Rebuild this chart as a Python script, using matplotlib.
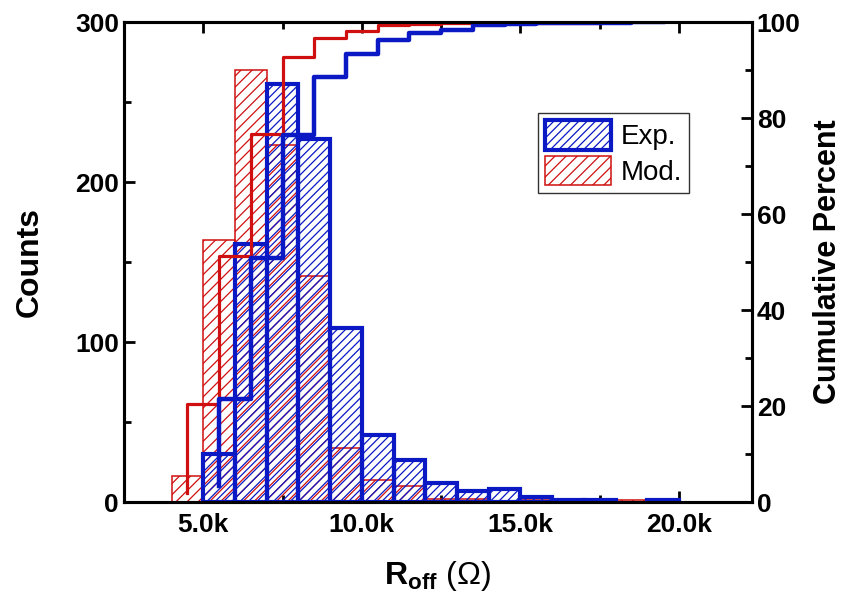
import numpy as np
import matplotlib
matplotlib.use("Agg")
import matplotlib.pyplot as plt
from matplotlib.ticker import MultipleLocator, FuncFormatter

plt.rcParams['font.family'] = ['Liberation Sans', 'DejaVu Sans']
plt.rcParams['mathtext.fontset'] = 'custom'
plt.rcParams['mathtext.rm'] = 'Liberation Sans'
plt.rcParams['mathtext.bf'] = 'Liberation Sans:bold'
plt.rcParams['hatch.linewidth'] = 0.9

# histogram bins (k-ohm) and counts per bin
bin_edges_k = [4, 5, 6, 7, 8, 9, 10, 11, 12, 13, 14, 15, 16, 17, 18, 19, 20]
exp_counts = [0, 30, 161, 261, 227, 109, 42, 26, 12, 7, 8, 3, 1, 1, 0, 1]
mod_counts = [16, 164, 270, 223, 141, 34, 14, 10, 2, 2, 0, 1, 0, 0, 1, 0]

blue = '#0a19c4'
red = '#d01010'

edges = np.array(bin_edges_k) * 1000.0
left = edges[:-1]
width = np.diff(edges)
centers = left + width / 2


def cumulative(counts):
    c = np.array(counts, dtype=float)
    nz = np.nonzero(c)[0]
    cum = np.cumsum(c) / c.sum() * 100
    sl = slice(nz[0], nz[-1] + 1)
    return centers[sl], cum[sl]


fig = plt.figure(figsize=(8.45, 5.95), dpi=100)
ax = fig.add_axes([0.1467, 0.1563, 0.7432, 0.8067])

m = np.array(mod_counts) > 0
ax.bar(left[m], np.array(mod_counts)[m], width=width[m], align='edge',
       facecolor='none', edgecolor=red, linewidth=1.1, hatch='///',
       label='Mod.', zorder=2)
e = np.array(exp_counts) > 0
ax.bar(left[e], np.array(exp_counts)[e], width=width[e], align='edge',
       facecolor='none', edgecolor=blue, linewidth=3.0, hatch='////',
       label='Exp.', zorder=3)

ax.set_xlim(2500, 22300)
ax.set_ylim(0, 300)
ax.xaxis.set_major_locator(MultipleLocator(5000))
ax.xaxis.set_minor_locator(MultipleLocator(2500))
ax.xaxis.set_major_formatter(FuncFormatter(lambda v, p: f'{v/1000:.1f}k'))
ax.yaxis.set_major_locator(MultipleLocator(100))
ax.yaxis.set_minor_locator(MultipleLocator(50))
ax.tick_params(which='both', direction='in', top=True, right=False, width=2)
ax.tick_params(which='major', length=8, labelsize=19)
ax.tick_params(axis='x', which='major', pad=8)
ax.tick_params(which='minor', length=5)
for lab in ax.get_xticklabels() + ax.get_yticklabels():
    lab.set_fontweight('bold')
ax.set_ylabel('Counts', fontsize=23, fontweight='bold', labelpad=22)
ax.set_xlabel(r'$\mathbf{R_{off}}$ (Ω)', fontsize=23, labelpad=16)

ax2 = ax.twinx()
ax2.set_ylim(0, 100)
xr, yr = cumulative(mod_counts)
ax2.plot(xr, yr, drawstyle='steps-pre', color=red, lw=2.3)
xb, yb = cumulative(exp_counts)
ax2.plot(xb, yb, drawstyle='steps-pre', color=blue, lw=3.2)
ax2.yaxis.set_major_locator(MultipleLocator(20))
ax2.yaxis.set_minor_locator(MultipleLocator(10))
ax2.tick_params(which='both', direction='in', width=2)
ax2.tick_params(which='major', length=8, labelsize=19)
ax2.tick_params(which='minor', length=5)
for lab in ax2.get_yticklabels():
    lab.set_fontweight('bold')
ax2.set_ylabel('Cumulative Percent', fontsize=22, fontweight='bold', labelpad=9)

for a in (ax, ax2):
    for s in a.spines.values():
        s.set_linewidth(2.2)

h, l = ax.get_legend_handles_labels()
leg = ax2.legend(h[::-1], l[::-1], loc='upper left', bbox_to_anchor=(0.659, 0.81),
                 fontsize=20, frameon=True, fancybox=False, edgecolor='black',
                 handlelength=2.4, handleheight=1.25, handletextpad=0.35,
                 labelspacing=0.2, borderpad=0.25, borderaxespad=0)
leg.get_frame().set_linewidth(1.0)

fig.savefig('out.png', dpi=100)
